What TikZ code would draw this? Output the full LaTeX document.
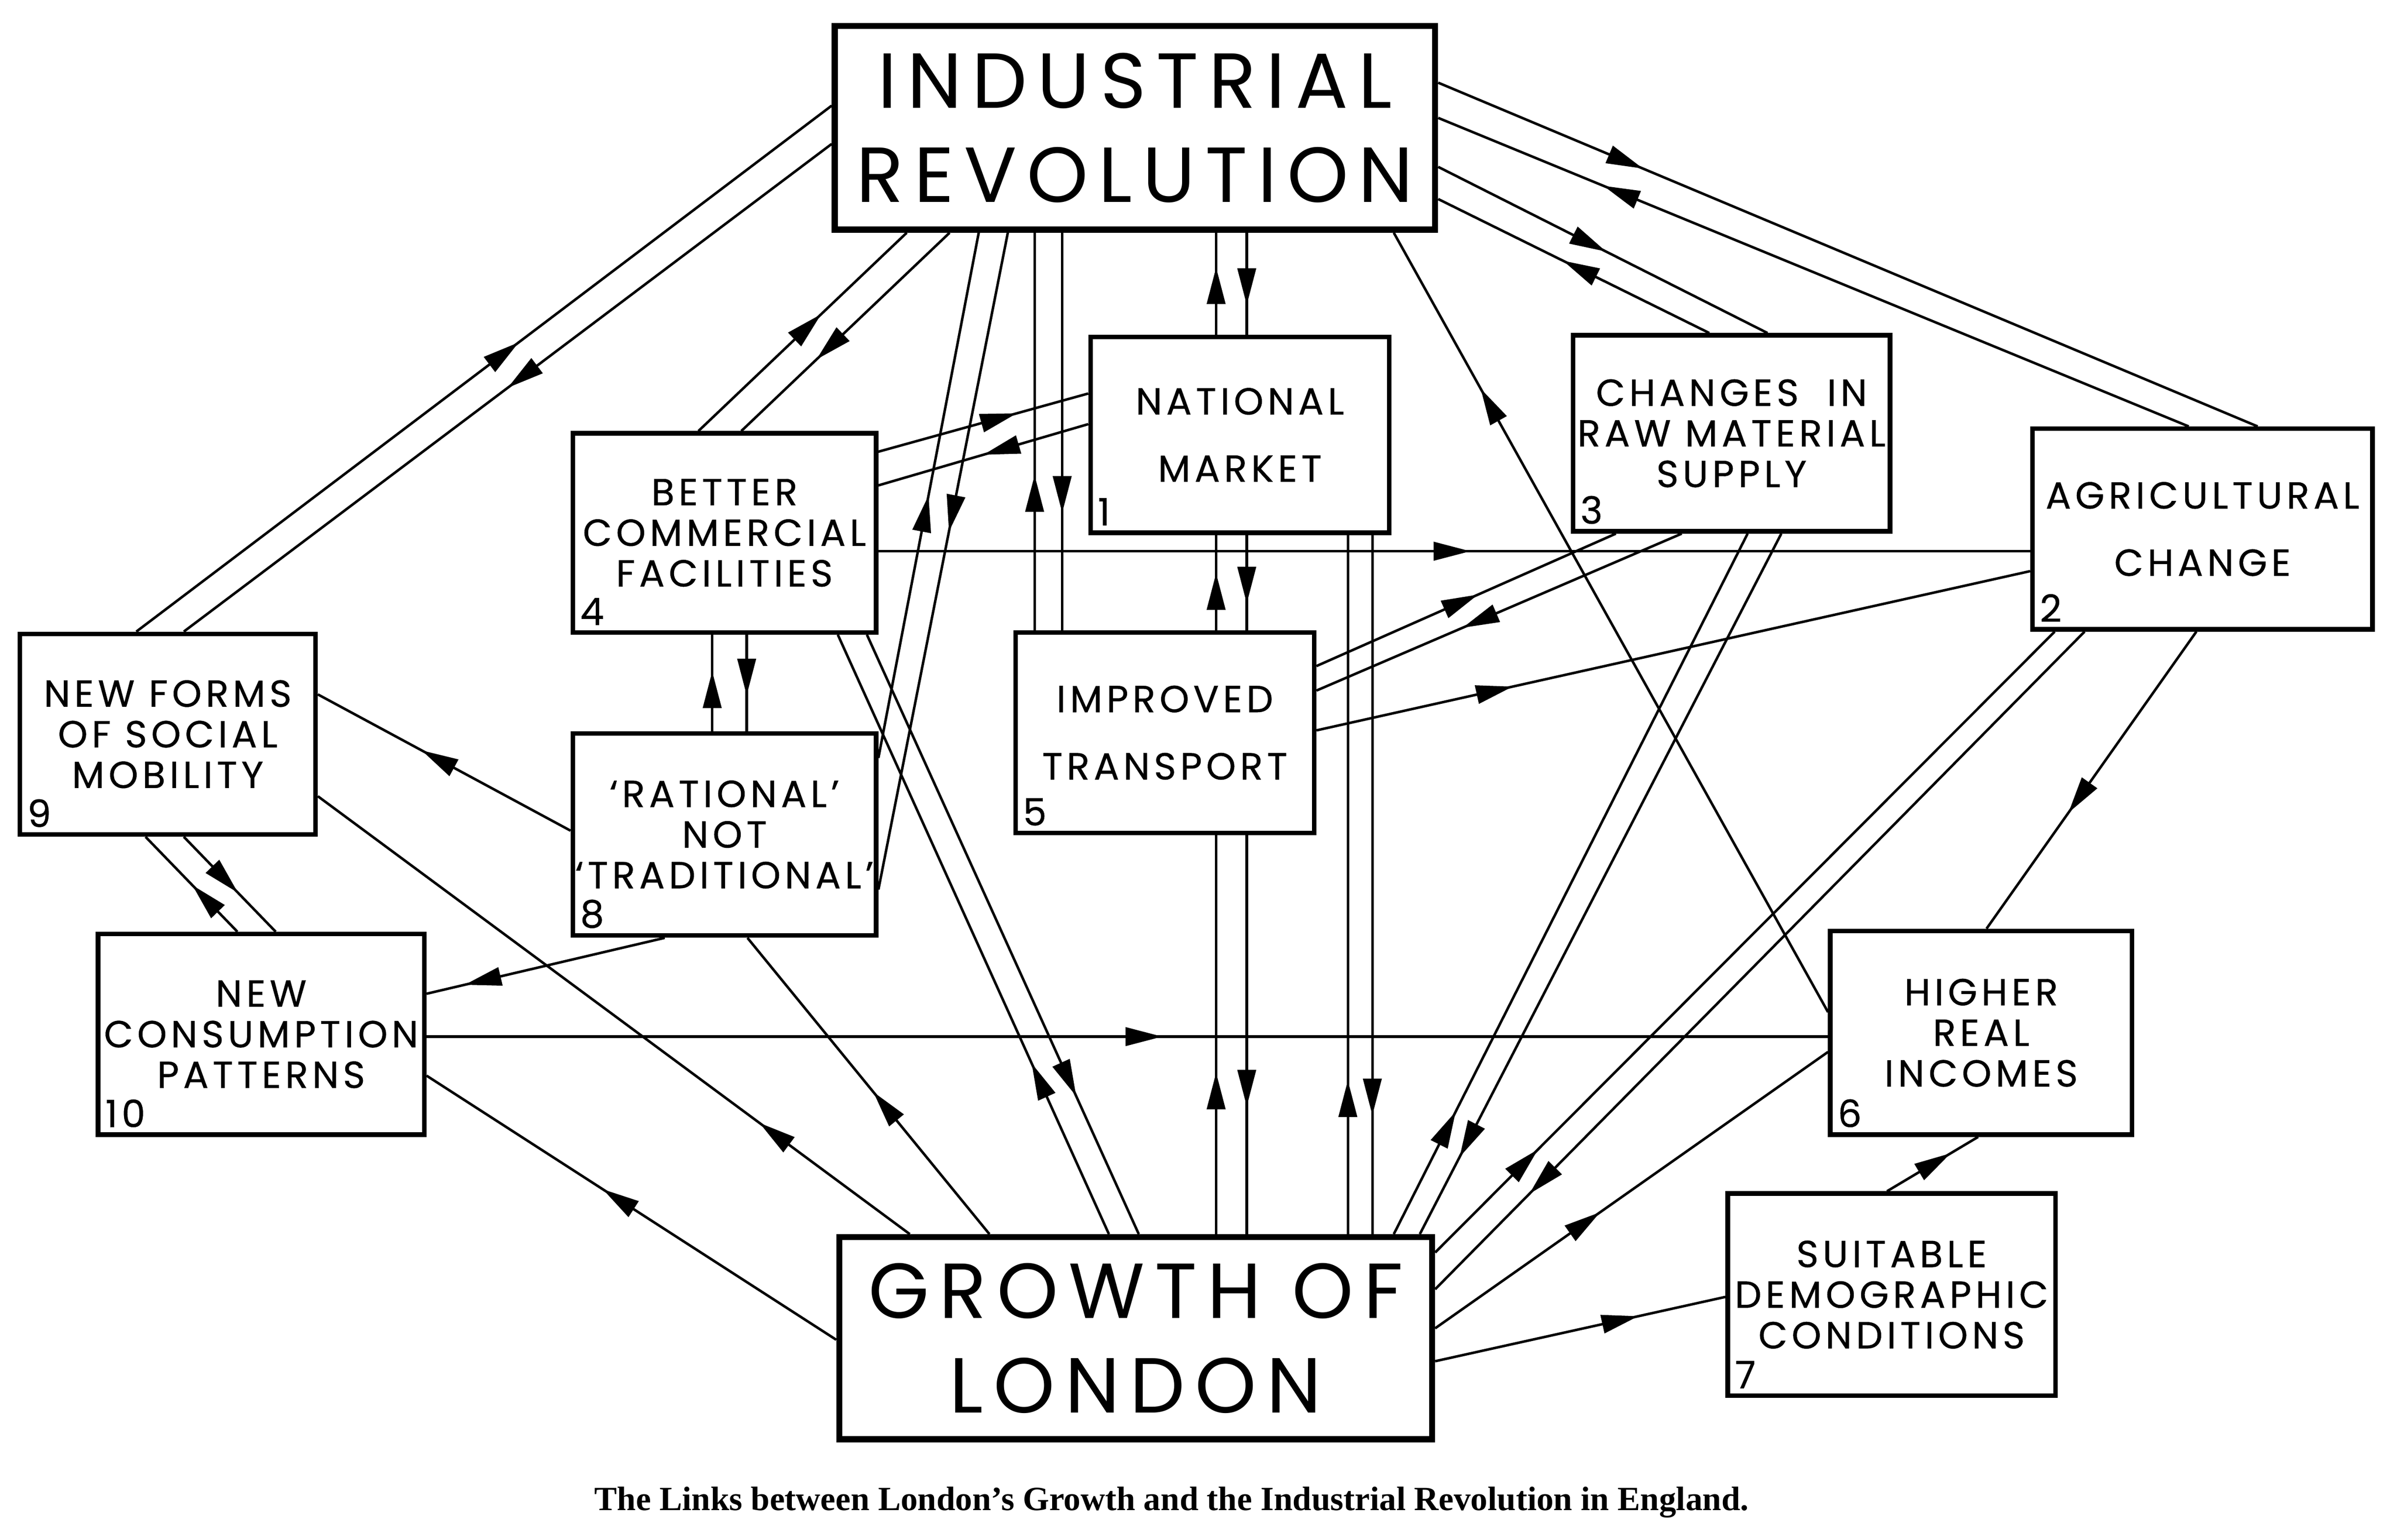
\documentclass[tikz,border=0pt]{standalone}
\usepackage{fontspec}
\newfontfamily\boxfont[LetterSpace=11,FakeBold=0.6]{Poppins}
\newfontfamily\bigfont[LetterSpace=13]{Poppins}
\newfontfamily\capfont{Liberation Serif}
\usetikzlibrary{arrows.meta,decorations.markings}
\tikzset{
  box/.style={draw,line width=0.6mm,inner sep=0pt,align=center,
    font=\boxfont\fontsize{14pt}{15.1pt}\selectfont},
  widebox/.style={box,font=\boxfont\fontsize{14pt}{25pt}\selectfont},
  bigbox/.style={draw,line width=0.8mm,inner sep=0pt,align=center,
    font=\bigfont\fontsize{29pt}{35pt}\selectfont},
  num/.style={anchor=south west,inner sep=0pt,xshift=1.2mm,yshift=1.2mm,
    font=\boxfont\fontsize{14pt}{15pt}\selectfont},
  link/.style={line width=0.33mm,postaction={decorate},
    decoration={markings,mark=at position #1 with
      {\arrow{Triangle[length=4.8mm,width=2.4mm]}}}},
  link/.default=0.5
}
\begin{document}
\begin{tikzpicture}[x=0.2mm,y=-0.2mm]
\useasboundingbox (0,0) rectangle (1565,1005.5);
\node[bigbox,minimum width=78.4mm,minimum height=26.6mm] (ir) at (741,83.5) {INDUSTRIAL\\REVOLUTION};
\node[bigbox,minimum width=77.4mm,minimum height=26.4mm] (gl) at (741.5,874) {GROWTH OF\\LONDON};
\node[widebox,minimum width=39mm,minimum height=25.6mm,label={[num]south west:1}] (nm) at (809.5,284) {NATIONAL\\MARKET};
\node[widebox,minimum width=44.4mm,minimum height=26.2mm,label={[num]south west:2}] (ag) at (1438,345.5) {AGRICULTURAL\\CHANGE};
\node[box,minimum width=41.4mm,minimum height=25.6mm,label={[num]south west:3}] (rm) at (1130.5,283) {CHANGES~ IN\\RAW MATERIAL\\SUPPLY};
\node[box,minimum width=39.6mm,minimum height=26mm,label={[num]south west:4}] (bc) at (473,348) {BETTER\\COMMERCIAL\\FACILITIES};
\node[widebox,minimum width=39mm,minimum height=26.2mm,label={[num]south west:5}] (tr) at (760.5,478.5) {IMPROVED\\TRANSPORT};
\node[box,minimum width=39.4mm,minimum height=26.6mm,label={[num]south west:6}] (hi) at (1293.5,674.5) {HIGHER\\REAL\\INCOMES};
\node[box,minimum width=42.8mm,minimum height=26.4mm,label={[num]south west:7}] (dc) at (1235,845.5) {SUITABLE\\DEMOGRAPHIC\\CONDITIONS};
\node[box,minimum width=39.6mm,minimum height=26.4mm,label={[num]south west:8}] (rt) at (473,545) {‘RATIONAL’\\NOT\\‘TRADITIONAL’};
\node[box,minimum width=38.6mm,minimum height=26.2mm,label={[num]south west:9}] (sm) at (109.5,479.5) {NEW FORMS\\OF SOCIAL\\MOBILITY};
\node[box,minimum width=42.6mm,minimum height=26.2mm,label={[num]south west:10}] (cp) at (170.5,675.5) {NEW\\CONSUMPTION\\PATTERNS};
\node[font=\capfont\bfseries\fontsize{12.6pt}{14pt}\selectfont] (caption) at (765,981) {The Links between London’s Growth and the Industrial Revolution in England.};
% links to and from the industrial revolution
\draw[link=0.55] ([xshift=-4.1mm]sm.north) -- ([yshift=2.9mm]ir.west);
\draw[link=0.5] ([yshift=-2.1mm]ir.west) -- ([xshift=2.1mm]sm.north);
\draw[link=0.59] ([xshift=-3.4mm]bc.north) -- ([xshift=-29.8mm]ir.south);
\draw[link=0.64] ([xshift=-24.2mm]ir.south) -- ([xshift=2.2mm]bc.north);
\draw[link=0.5] ([yshift=10mm]rt.east) -- ([xshift=-20.4mm]ir.south);
\draw[link=0.455] ([xshift=-16.6mm]ir.south) -- ([yshift=-7.2mm]rt.east);
\draw[link=0.39] ([xshift=-17mm]tr.north) -- ([xshift=-17mm]tr.north |- ir.south);
\draw[link=0.705] ([xshift=-13.4mm]tr.north |- ir.south) -- ([xshift=-13.4mm]tr.north);
\draw[link=0.66] ([xshift=-3.1mm]nm.north) -- ([xshift=-3.1mm]nm.north |- ir.south);
\draw[link=0.71] ([xshift=0.9mm]nm.north |- ir.south) -- ([xshift=0.9mm]nm.north);
\draw[link=0.25] ([yshift=5.9mm]ir.east) -- ([xshift=7.2mm]ag.north);
\draw[link=0.78] ([xshift=-1.8mm]ag.north) -- ([yshift=1.3mm]ir.east);
\draw[link=0.51] ([yshift=-5.1mm]ir.east) -- ([xshift=4.7mm]rm.north);
\draw[link=0.54] ([xshift=-2.9mm]rm.north) -- ([yshift=-9.3mm]ir.east);
\draw[link=0.8] ([yshift=2.7mm]hi.west) -- ([xshift=33.8mm]ir.south);
% links between the middle boxes
\draw[link=0.6] ([xshift=-3.1mm]nm.south |- tr.north) -- ([xshift=-3.1mm]nm.south);
\draw[link=0.72] ([xshift=0.9mm]nm.south) -- ([xshift=0.9mm]nm.south |- tr.north);
\draw[link=0.66] ([yshift=10.6mm]bc.east) -- ([yshift=5.4mm]nm.west);
\draw[link=0.5] ([yshift=1.4mm]nm.west) -- ([yshift=6.2mm]bc.east);
\draw[link=0.514] ([yshift=-2.4mm]bc.east) -- ([yshift=-2.4mm]bc.east -| ag.west);
\draw[link=0.54] ([yshift=8.7mm]tr.east) -- ([xshift=-15.1mm]rm.south);
\draw[link=0.6] ([xshift=-6.5mm]rm.south) -- ([yshift=5.5mm]tr.east);
\draw[link=0.275] ([yshift=0.3mm]tr.east) -- ([yshift=-5.5mm]ag.west);
\draw[link=0.61] ([xshift=-0.8mm]ag.south) -- ([xshift=0.7mm]hi.north);
\draw[link=0.7] ([xshift=-0.6mm]dc.north) -- ([xshift=-0.4mm]hi.south);
\draw[link=0.525] ([yshift=-0.3mm]cp.east) -- ([yshift=-0.3mm]cp.east -| hi.west);
\draw[link=0.84] ([xshift=-7.8mm]rt.south) -- ([yshift=5.3mm]cp.east);
\draw[link=0.59] ([yshift=0.5mm]rt.west) -- ([yshift=5.2mm]sm.east);
\draw[link=0.49] ([xshift=-3.1mm]cp.north) -- ([xshift=-2.9mm]sm.south);
\draw[link=0.59] ([xshift=2.1mm]sm.south) -- ([xshift=1.9mm]cp.north);
\draw[link=0.62] ([xshift=-1.6mm]bc.south |- rt.north) -- ([xshift=-1.6mm]bc.south);
\draw[link=0.63] ([xshift=2.9mm]bc.south) -- ([xshift=2.9mm]bc.south |- rt.north);
% links to and from the growth of london
\draw[link=0.405] ([xshift=6.7mm]tr.south |- gl.north) -- ([xshift=6.7mm]tr.south);
\draw[link=0.68] ([xshift=10.7mm]tr.south) -- ([xshift=10.7mm]tr.south |- gl.north);
\draw[link=0.22] ([xshift=14.1mm]nm.south |- gl.north) -- ([xshift=14.1mm]nm.south);
\draw[link=0.83] ([xshift=17.3mm]nm.south) -- ([xshift=17.3mm]nm.south |- gl.north);
\draw[link=0.175] ([xshift=33.7mm]gl.north) -- ([xshift=2.1mm]rm.south);
\draw[link=0.89] ([xshift=6.5mm]rm.south) -- ([xshift=37.1mm]gl.north);
\draw[link=0.166] ([yshift=11.2mm]gl.east) -- ([xshift=-19.3mm]ag.south);
\draw[link=0.855] ([xshift=-15.4mm]ag.south) -- ([yshift=6.4mm]gl.east);
\draw[link=0.42] ([yshift=1.3mm]gl.east) -- ([yshift=-2.5mm]hi.west);
\draw[link=0.7] ([yshift=-3mm]gl.east) -- ([yshift=-0.3mm]dc.west);
\draw[link=0.254] ([xshift=-29.5mm]gl.north) -- ([yshift=-8.1mm]sm.east);
\draw[link=0.48] ([xshift=-19.1mm]gl.north) -- ([xshift=3mm]rt.south);
\draw[link=0.57] ([yshift=-0.2mm]gl.west) -- ([yshift=-5.4mm]cp.east);
\draw[link=0.285] ([xshift=-3.5mm]gl.north) -- ([xshift=14.8mm]bc.south);
\draw[link=0.77] ([xshift=18.6mm]bc.south) -- ([xshift=0.4mm]gl.north);
\end{tikzpicture}
\end{document}
